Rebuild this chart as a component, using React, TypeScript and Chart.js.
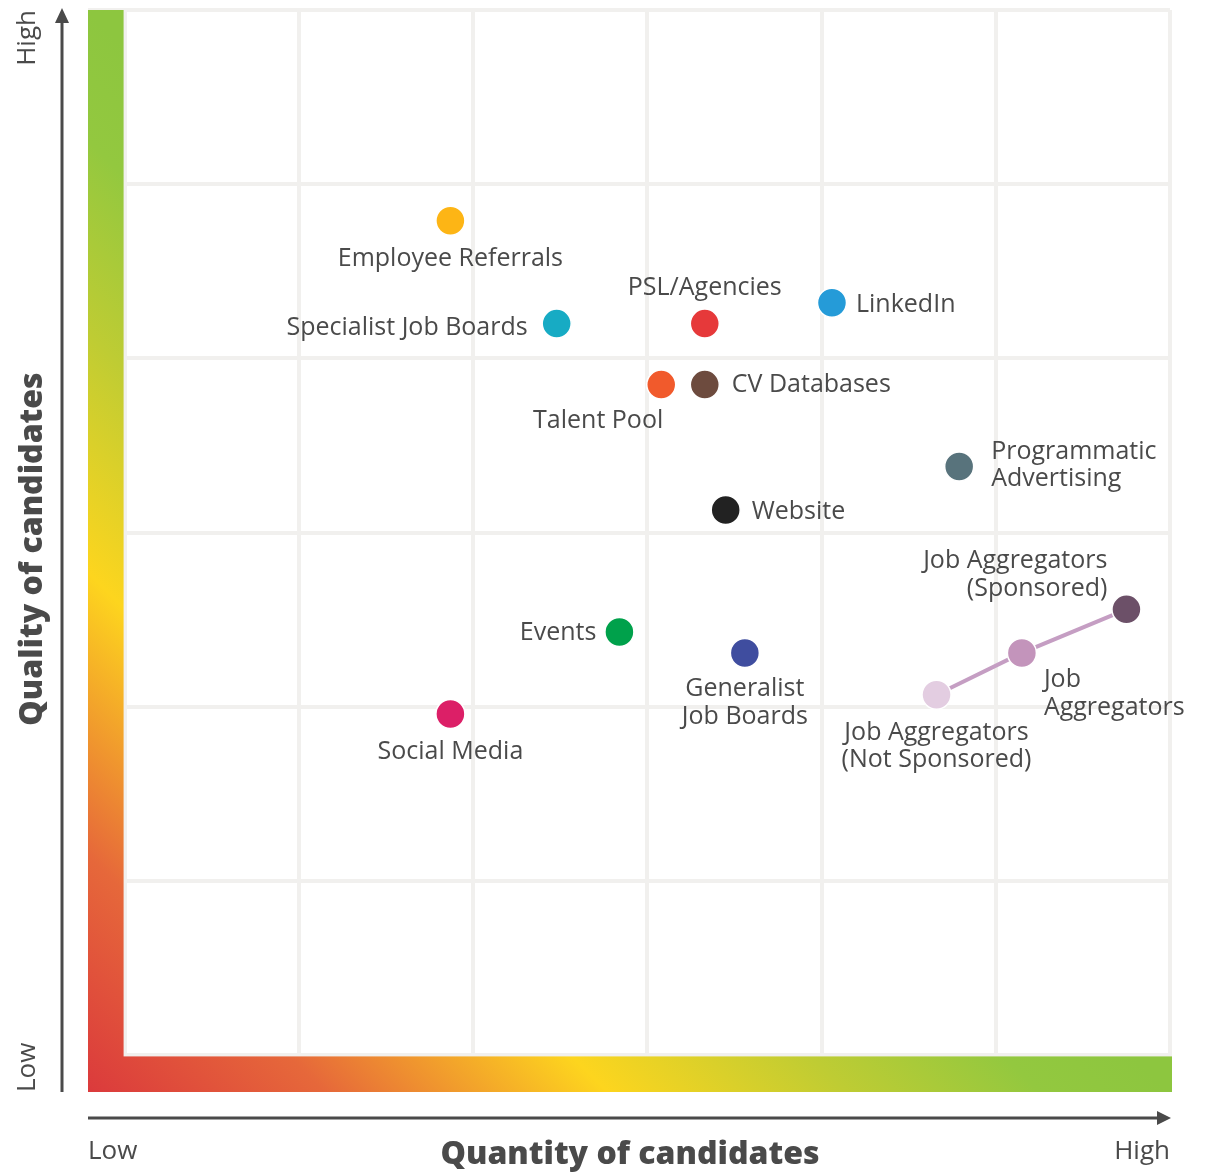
import React, { useEffect, useRef } from "react";
import { Chart, registerables } from "chart.js";

Chart.register(...registerables);

// ---- Data ----
const categories = [
  "Employee Referrals",
  "Specialist Job Boards",
  "PSL/Agencies",
  "LinkedIn",
  "Talent Pool",
  "CV Databases",
  "Programmatic Advertising",
  "Website",
  "Job Aggregators (Sponsored)",
  "Job Aggregators",
  "Job Aggregators (Not Sponsored)",
  "Events",
  "Generalist Job Boards",
  "Social Media",
];
const quantity = [1.87, 2.48, 3.33, 4.06, 3.08, 3.33, 4.79, 3.45, 5.75, 5.15, 4.66, 2.84, 3.56, 1.87];
const quality = [4.79, 4.2, 4.2, 4.32, 3.85, 3.85, 3.38, 3.13, 2.56, 2.31, 2.07, 2.43, 2.31, 1.96];
const labelLines = [
  ["Employee Referrals"],
  ["Specialist Job Boards"],
  ["PSL/Agencies"],
  ["LinkedIn"],
  ["Talent Pool"],
  ["CV Databases"],
  ["Programmatic", "Advertising"],
  ["Website"],
  ["Job Aggregators", "(Sponsored)"],
  ["Job", "Aggregators"],
  ["Job Aggregators", "(Not Sponsored)"],
  ["Events"],
  ["Generalist", "Job Boards"],
  ["Social Media"],
];
const aggregatorPath = [10, 9, 8];
const gridTicks = [0, 1, 2, 3, 4, 5, 6];
const axisMin = -0.21;
const axisMax = 6;

// ---- Styles ----
const pointColors = [
  "#fdb515",
  "#17abc4",
  "#e6393a",
  "#259bd8",
  "#f15a2c",
  "#6d4b3e",
  "#58737c",
  "#222222",
  "#6c5068",
  "#c394bb",
  "#e3cde1",
  "#00a14b",
  "#3f4d9f",
  "#dc1f67",
];
// label placement: [align, dx, dy of first line]
const labelPlace: [CanvasTextAlign, number, number][] = [
  ["center", 0, 38],
  ["right", -29, 4],
  ["center", 0, -36],
  ["left", 24, 2],
  ["right", 2, 36],
  ["left", 27, 0],
  ["left", 32, -15],
  ["left", 26, 2],
  ["right", -19, -48],
  ["left", 22, 27],
  ["center", 0, 38],
  ["right", -23, 1],
  ["center", 0, 36],
  ["center", 0, 38],
];
const LINE_H = 27.5;
const TEXT = "#4a4a4a";
const LABEL_FONT = '25px "Open Sans"';
const TITLE_FONT = '800 32px "Open Sans"';
const SMALL_FONT = '400 26px "Open Sans"';

const decorPlugin = {
  id: "decor",
  beforeDatasetsDraw(chart: any) {
    const { ctx, chartArea, scales } = chart;
    const x0 = scales.x.getPixelForValue(0);
    const y0 = scales.y.getPixelForValue(0);
    const L = chartArea.left;
    const B = chartArea.bottom;
    const span = B - chartArea.top;
    const g = ctx.createLinearGradient(L, B, L + span / 2, B - span / 2);
    g.addColorStop(0, "#db3a3c");
    g.addColorStop(0.22, "#e6683a");
    g.addColorStop(0.48, "#fdd51e");
    g.addColorStop(0.7, "#bfcc33");
    g.addColorStop(0.88, "#93c83f");
    g.addColorStop(1, "#8dc63f");
    ctx.save();
    ctx.fillStyle = g;
    ctx.fillRect(L, chartArea.top, x0 - 1 - L, B - chartArea.top);
    ctx.fillRect(L, y0 + 1, chartArea.right + 2 - L, B - y0 - 1);
    ctx.restore();
  },
  afterDatasetsDraw(chart: any) {
    const { ctx } = chart;
    const meta = chart.getDatasetMeta(1);
    ctx.save();
    ctx.font = LABEL_FONT;
    ctx.fillStyle = TEXT;
    ctx.textBaseline = "middle";
    meta.data.forEach((pt: any, i: number) => {
      const [align, dx, dy] = labelPlace[i];
      ctx.textAlign = align;
      labelLines[i].forEach((line, j) => {
        ctx.fillText(line, pt.x + dx, pt.y + dy + j * LINE_H);
      });
    });
    ctx.restore();
  },
  afterDraw(chart: any) {
    const { ctx, chartArea } = chart;
    const L = chartArea.left;
    const B = chartArea.bottom;
    const R = chartArea.right;
    const T = chartArea.top;
    ctx.save();
    ctx.strokeStyle = "#4a4a4a";
    ctx.fillStyle = "#4a4a4a";
    ctx.lineWidth = 3;
    // vertical arrow
    const ax = 62;
    ctx.beginPath();
    ctx.moveTo(ax, B);
    ctx.lineTo(ax, T + 12);
    ctx.stroke();
    ctx.beginPath();
    ctx.moveTo(ax, T - 2);
    ctx.lineTo(ax - 7, T + 13);
    ctx.lineTo(ax + 7, T + 13);
    ctx.closePath();
    ctx.fill();
    // horizontal arrow
    const ay = 1118;
    ctx.beginPath();
    ctx.moveTo(L, ay);
    ctx.lineTo(R - 12, ay);
    ctx.stroke();
    ctx.beginPath();
    ctx.moveTo(R + 1, ay);
    ctx.lineTo(R - 13, ay - 7);
    ctx.lineTo(R - 13, ay + 7);
    ctx.closePath();
    ctx.fill();

    ctx.fillStyle = TEXT;
    // bottom texts
    ctx.font = SMALL_FONT;
    ctx.textBaseline = "middle";
    ctx.textAlign = "left";
    ctx.fillText("Low", L, 1152);
    ctx.textAlign = "right";
    ctx.fillText("High", R, 1152);
    ctx.font = TITLE_FONT;
    ctx.textAlign = "center";
    ctx.fillText("Quantity of candidates", 630, 1155);

    // rotated texts
    ctx.save();
    ctx.translate(28, 0);
    ctx.rotate(-Math.PI / 2);
    ctx.font = SMALL_FONT;
    ctx.textAlign = "right";
    ctx.fillText("High", -T, 0);
    ctx.textAlign = "left";
    ctx.fillText("Low", -B, 0);
    ctx.restore();
    ctx.save();
    ctx.translate(33, 549);
    ctx.rotate(-Math.PI / 2);
    ctx.font = TITLE_FONT;
    ctx.textAlign = "center";
    ctx.fillText("Quality of candidates", 0, 0);
    ctx.restore();
    ctx.restore();
  },
};

export default function App() {
  const ref = useRef<HTMLCanvasElement | null>(null);
  useEffect(() => {
    if (!ref.current) return;
    const fixTicks = (scale: any) => {
      scale.ticks = gridTicks.map((v) => ({ value: v }));
    };
    const chart = new Chart(ref.current, {
      type: "scatter",
      data: {
        datasets: [
          {
            type: "line",
            label: "Job Aggregators",
            data: aggregatorPath.map((i) => ({ x: quantity[i], y: quality[i] })),
            borderColor: "#c59ec3",
            borderWidth: 4,
            pointRadius: 0,
            fill: false,
            order: 2,
          } as any,
          {
            type: "scatter",
            label: "Channels",
            data: categories.map((_, i) => ({ x: quantity[i], y: quality[i] })),
            backgroundColor: pointColors,
            borderColor: "#ffffff",
            borderWidth: 1.5,
            pointRadius: 14.5,
            pointHoverRadius: 14.5,
            order: 1,
          },
        ],
      },
      options: {
        responsive: false,
        animation: false,
        events: [],
        layout: { autoPadding: false, padding: { left: 88, right: 35, top: 10, bottom: 82 } },
        plugins: { legend: { display: false }, tooltip: { enabled: false } },
        scales: {
          x: {
            type: "linear",
            min: axisMin,
            max: axisMax,
            afterBuildTicks: fixTicks,
            ticks: { display: false },
            border: { display: false },
            grid: { color: "#f1f0ee", lineWidth: 4, drawTicks: false },
          },
          y: {
            type: "linear",
            min: axisMin,
            max: axisMax,
            afterBuildTicks: fixTicks,
            ticks: { display: false },
            border: { display: false },
            grid: { color: "#f1f0ee", lineWidth: 4, drawTicks: false },
          },
        },
      },
      plugins: [decorPlugin],
    });
    return () => chart.destroy();
  }, []);
  return (
    <div style={{ position: "absolute", left: 0, top: 0, width: 1205, height: 1174 }}>
      <canvas ref={ref} width={1205} height={1174} />
    </div>
  );
}
